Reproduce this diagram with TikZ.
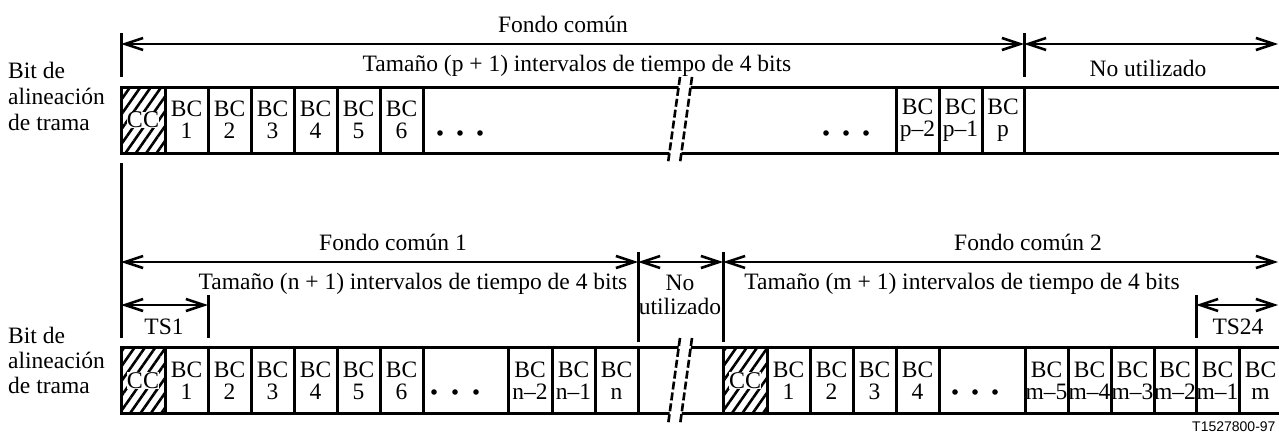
\documentclass[tikz,border=0pt]{standalone}
\usepackage{fontspec}
\setmainfont{Liberation Serif}
\newfontfamily\pieffont{Liberation Sans}
\usetikzlibrary{arrows.meta,patterns.meta}

\tikzset{
  celda/.style={draw, line width=3pt, minimum height=66pt, inner sep=0pt,
    align=center, font=\fontsize{23.5}{22}\selectfont},
  rayado/.style={celda, pattern={Lines[angle=55,distance=8.5pt,line width=2.6pt]}},
  letracc/.style={fill=white, inner sep=0pt, font=\fontsize{24}{22}\selectfont},
  cota/.style={<->, line width=2.6pt},
  marca/.style={line width=3pt},
  texto/.style={inner sep=0pt, align=center, font=\fontsize{23.5}{24}\selectfont},
  corte/.style={line width=2.6pt, dash pattern=on 8pt off 3pt},
}

\begin{document}
\begin{tikzpicture}[line cap=butt,line join=miter,x=1pt,y=-1pt,
  >={Straight Barb[length=18pt,width=12pt]}]
\useasboundingbox (0,0) rectangle (1279,436);

% trama superior
\node[rayado, minimum width=44pt] (tcc) at (143,120) {};
\node[letracc] (tcctxt) at (tcc) {CC};
\foreach \xa/\xb/\txt/\nm
  [evaluate=\xa as \xm using (\xa+\xb)/2, evaluate=\xa as \w using \xb-\xa]
  in {165/208/{BC\\1}/t1, 208/251/{BC\\2}/t2, 251/294/{BC\\3}/t3,
      294/337/{BC\\4}/t4, 337/380/{BC\\5}/t5, 380/423/{BC\\6}/t6,
      423/896/{}/tpts, 896/939/{BC\\p--2}/tp2, 939/982/{BC\\p--1}/tp1,
      982/1024/{BC\\p}/tp, 1024/1282/{}/tlibre}
  {\node[celda, minimum width=\w pt] (\nm) at (\xm,120) {\txt};}

% puntos
\foreach \x in {440,460,480,826,846,866}
  \fill (\x,133) circle [radius=2.8pt];

% corte superior
\fill[white] (680,77) -- (692,77) -- (680,163) -- (668,163) -- cycle;
\draw[corte] (680,77) -- (668,163);
\draw[corte] (692,77) -- (680,163);

% cotas superiores
\draw[marca] (121,33) -- (121,77);
\draw[marca] (1024,33) -- (1024,77);
\coordinate (a0) at (121,44);
\coordinate (a1) at (1024,44);
\coordinate (a2) at (1278,44);
\draw[cota] (a0) -- (a1);
\draw[cota] (a1) -- (a2);
\node[texto] (fondo) at (563,24) {Fondo común};
\node[texto] (tamp) at (577,66) {Tamaño (p + 1) intervalos de tiempo de 4 bits};
\node[texto] (libre) at (1148,68) {No utilizado};

\node[texto, align=left, anchor=west, font=\fontsize{23.5}{26}\selectfont]
  (bita) at (8,96) {Bit de\\alineación\\de trama};

% linea izquierda
\draw[marca] (121,163) -- (121,338);

% trama inferior
\node[rayado, minimum width=44pt] (bcc) at (143,380.5) {};
\node[letracc] (bcctxt) at (bcc) {CC};
\node[rayado, minimum width=44pt] (bcc2) at (745,380.5) {};
\node[letracc] (bcc2txt) at (bcc2) {CC};
\foreach \xa/\xb/\txt/\nm
  [evaluate=\xa as \xm using (\xa+\xb)/2, evaluate=\xa as \w using \xb-\xa]
  in {165/208/{BC\\1}/b1, 208/251/{BC\\2}/b2, 251/294/{BC\\3}/b3,
      294/337/{BC\\4}/b4, 337/380/{BC\\5}/b5, 380/423/{BC\\6}/b6,
      423/508/{}/bpts, 508/552/{BC\\n--2}/bn2, 552/595/{BC\\n--1}/bn1,
      595/638/{BC\\n}/bn, 638/723/{}/blibre,
      767/810/{BC\\1}/c1, 810/853/{BC\\2}/c2, 853/896/{BC\\3}/c3,
      896/939/{BC\\4}/c4, 939/1025/{}/cpts,
      1025/1068/{BC\\m--5}/cm5, 1068/1111/{BC\\m--4}/cm4,
      1111/1154/{BC\\m--3}/cm3, 1154/1196/{BC\\m--2}/cm2,
      1196/1239/{BC\\m--1}/cm1, 1239/1282/{BC\\m}/cm}
  {\node[celda, minimum width=\w pt] (\nm) at (\xm,380.5) {\txt};}

\foreach \x in {434,455,476,955,975,995}
  \fill (\x,392) circle [radius=2.8pt];

% corte inferior
\fill[white] (680,338) -- (692,338) -- (680,425) -- (668,425) -- cycle;
\draw[corte] (680,338) -- (668,425);
\draw[corte] (692,338) -- (680,425);

% cotas inferiores
\draw[marca] (638,252) -- (638,342);
\draw[marca] (723,252) -- (723,342);
\draw[marca] (208,295) -- (208,338);
\draw[marca] (1196,295) -- (1196,338);
\coordinate (b0) at (121,262);
\coordinate (b1) at (638,262);
\coordinate (b2) at (723,262);
\coordinate (b3) at (1278,262);
\coordinate (s0) at (121,305);
\coordinate (s1) at (208,305);
\coordinate (s2) at (1196,305);
\coordinate (s3) at (1278,305);
\draw[cota] (b0) -- (b1);
\draw[cota] (b1) -- (b2);
\draw[cota] (b2) -- (b3);
\draw[cota] (s0) -- (s1);
\draw[cota] (s2) -- (s3);

\node[texto] (fondo1) at (393,242) {Fondo común 1};
\node[texto] (fondo2) at (1028,242) {Fondo común 2};
\node[texto] (tamn) at (413,284) {Tamaño (n + 1) intervalos de tiempo de 4 bits};
\node[texto] (libre2) at (680,295) {No\\utilizado};
\node[texto] (tamm) at (962,284) {Tamaño (m + 1) intervalos de tiempo de 4 bits};
\node[texto] (ts1) at (164,327) {TS1};
\node[texto] (ts24) at (1238,327) {TS24};

\node[texto, align=left, anchor=west, font=\fontsize{23.5}{25}\selectfont]
  (bitb) at (8,360) {Bit de\\alineación\\de trama};

\node[inner sep=0pt, anchor=west, font=\pieffont\fontsize{14}{14}\selectfont]
  (pie) at (1192,427) {T1527800-97};
\end{tikzpicture}
\end{document}
